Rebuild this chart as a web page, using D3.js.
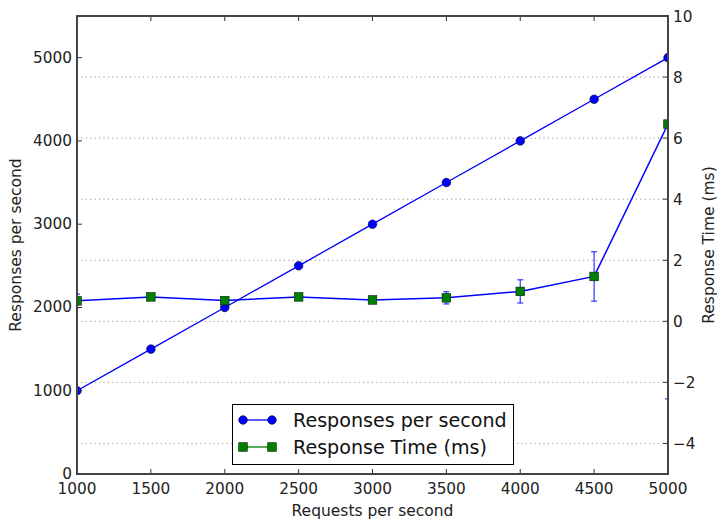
<!DOCTYPE html>
<html>
<head>
<meta charset="utf-8">
<script src="https://cdn.jsdelivr.net/npm/d3@7"></script>
<style>
  html, body { margin: 0; padding: 0; background: #fff; }
  svg { display: block; font-family: "DejaVu Sans", sans-serif; }
</style>
</head>
<body>
<svg id="chart" width="718" height="521"></svg>
<script>
const requests = [1000, 1500, 2000, 2500, 3000, 3500, 4000, 4500, 5000];
const responses = [1000, 1500, 2000, 2500, 3000, 3500, 4000, 4500, 5000];
const respTime = [0.67, 0.80, 0.68, 0.80, 0.70, 0.77, 0.98, 1.47, 6.46];
const respErr = [0.22, 0.08, 0.08, 0.08, 0.08, 0.20, 0.38, 0.81, 9.0];
const xTicks = [1000, 1500, 2000, 2500, 3000, 3500, 4000, 4500, 5000];
const yLeftTicks = [0, 1000, 2000, 3000, 4000, 5000];
const yRightTicks = [-4, -2, 0, 2, 4, 6, 8, 10];
const legendLabels = ["Responses per second", "Response Time (ms)"];
const axisLabels = { x: "Requests per second", yLeft: "Responses per second", yRight: "Response Time (ms)" };

const svg = d3.select("#chart");
const L = 77, R = 668, T = 16, B = 474;

const x = d3.scaleLinear().domain([1000, 5000]).range([L, R]);
const y1 = d3.scaleLinear().domain([0, 5500]).range([B, T]);
const y2 = d3.scaleLinear().domain([-5, 10]).range([B, T]);

const BLUE = "#0000ff", GREEN = "#007f00";

svg.append("defs").append("clipPath").attr("id", "clip")
  .append("rect").attr("x", L).attr("y", T).attr("width", R - L).attr("height", B - T);

// gridlines (from right axis)
svg.append("g").selectAll("line").data(yRightTicks).join("line")
  .attr("x1", L).attr("x2", R)
  .attr("y1", d => y2(d)).attr("y2", d => y2(d))
  .attr("stroke", "#999").attr("stroke-width", 1)
  .attr("stroke-dasharray", "1.2,3.2");

const plot = svg.append("g").attr("clip-path", "url(#clip)");

// Responses per second
plot.append("path").datum(requests.map((r, i) => [r, responses[i]]))
  .attr("fill", "none").attr("stroke", BLUE).attr("stroke-width", 1.3)
  .attr("d", d3.line().x(d => x(d[0])).y(d => y1(d[1])));
plot.append("g").selectAll("circle").data(requests.map((r, i) => [r, responses[i]])).join("circle")
  .attr("cx", d => x(d[0])).attr("cy", d => y1(d[1])).attr("r", 4.3)
  .attr("fill", BLUE).attr("stroke", "#000033").attr("stroke-width", 0.6);

// Response time with error bars
const rt = requests.map((r, i) => ({ x: r, y: respTime[i], e: respErr[i] }));
plot.append("path").datum(rt)
  .attr("fill", "none").attr("stroke", BLUE).attr("stroke-width", 1.5)
  .attr("d", d3.line().x(d => x(d.x)).y(d => y2(d.y)));
const eb = plot.append("g").attr("stroke", "#3333ff").attr("stroke-width", 1.2);
eb.selectAll("line.v").data(rt).join("line").attr("class", "v")
  .attr("x1", d => x(d.x)).attr("x2", d => x(d.x))
  .attr("y1", d => y2(d.y - d.e)).attr("y2", d => y2(d.y + d.e));
eb.selectAll("line.lo").data(rt).join("line").attr("class", "lo")
  .attr("x1", d => x(d.x) - 3).attr("x2", d => x(d.x) + 3)
  .attr("y1", d => y2(d.y - d.e)).attr("y2", d => y2(d.y - d.e));
eb.selectAll("line.hi").data(rt).join("line").attr("class", "hi")
  .attr("x1", d => x(d.x) - 3).attr("x2", d => x(d.x) + 3)
  .attr("y1", d => y2(d.y + d.e)).attr("y2", d => y2(d.y + d.e));
plot.append("g").selectAll("rect").data(rt).join("rect")
  .attr("x", d => x(d.x) - 4.3).attr("y", d => y2(d.y) - 4.3)
  .attr("width", 8.6).attr("height", 8.6)
  .attr("fill", GREEN).attr("stroke", "#002200").attr("stroke-width", 0.6);

// ticks (inward)
const tk = svg.append("g").attr("stroke", "#333").attr("stroke-width", 1);
xTicks.forEach(t => {
  tk.append("line").attr("x1", x(t)).attr("x2", x(t)).attr("y1", B).attr("y2", B - 5);
  tk.append("line").attr("x1", x(t)).attr("x2", x(t)).attr("y1", T).attr("y2", T + 5);
});
yLeftTicks.forEach(t => {
  tk.append("line").attr("x1", L).attr("x2", L + 5).attr("y1", y1(t)).attr("y2", y1(t));
});
yRightTicks.forEach(t => {
  tk.append("line").attr("x1", R).attr("x2", R - 5).attr("y1", y2(t)).attr("y2", y2(t));
});

// frame
svg.append("rect").attr("x", L).attr("y", T).attr("width", R - L).attr("height", B - T)
  .attr("fill", "none").attr("stroke", "#444").attr("stroke-width", 2);

// tick labels
const fmt = d => String(d).replace("-", "\u2212");
svg.append("g").selectAll("text").data(xTicks).join("text")
  .attr("x", d => x(d)).attr("y", B + 20).attr("text-anchor", "middle")
  .attr("font-size", 15.3).attr("fill", "#222").text(d => d);
svg.append("g").selectAll("text").data(yLeftTicks).join("text")
  .attr("x", L - 5).attr("y", d => y1(d) + 5).attr("text-anchor", "end")
  .attr("font-size", 15.3).attr("fill", "#222").text(d => d);
svg.append("g").selectAll("text").data(yRightTicks).join("text")
  .attr("x", R + 5).attr("y", d => y2(d) + 5.5).attr("text-anchor", "start")
  .attr("font-size", 15.3).attr("fill", "#222").text(d => fmt(d));

// axis labels
svg.append("text").attr("x", (L + R) / 2).attr("y", 516).attr("text-anchor", "middle")
  .attr("font-size", 15.5).attr("fill", "#222").text(axisLabels.x);
svg.append("text").attr("transform", `translate(21,${(T + B) / 2}) rotate(-90)`)
  .attr("text-anchor", "middle").attr("font-size", 15.5).attr("fill", "#222").text(axisLabels.yLeft);
svg.append("text").attr("transform", `translate(714,${(T + B) / 2}) rotate(-90)`)
  .attr("text-anchor", "middle").attr("font-size", 15.5).attr("fill", "#222").text(axisLabels.yRight);

// legend
const lg = svg.append("g");
lg.append("rect").attr("x", 232.5).attr("y", 404.5).attr("width", 281).attr("height", 60)
  .attr("fill", "#fff").attr("stroke", "#000").attr("stroke-width", 1);
const legItems = [
  { label: legendLabels[0], color: BLUE, shape: "circle", y: 420 },
  { label: legendLabels[1], color: GREEN, shape: "square", y: 447 }
];
legItems.forEach(it => {
  lg.append("line").attr("x1", 243).attr("x2", 272).attr("y1", it.y).attr("y2", it.y)
    .attr("stroke", it.color).attr("stroke-width", 1.3);
  [243, 272].forEach(cx => {
    if (it.shape === "circle") {
      lg.append("circle").attr("cx", cx).attr("cy", it.y).attr("r", 4.3)
        .attr("fill", it.color).attr("stroke", "#000033").attr("stroke-width", 0.6);
    } else {
      lg.append("rect").attr("x", cx - 4.3).attr("y", it.y - 4.3).attr("width", 8.6).attr("height", 8.6)
        .attr("fill", it.color).attr("stroke", "#002200").attr("stroke-width", 0.6);
    }
  });
  lg.append("text").attr("x", 293).attr("y", it.y + 6.5).attr("font-size", 19.1)
    .attr("fill", "#111").text(it.label);
});
</script>
</body>
</html>
